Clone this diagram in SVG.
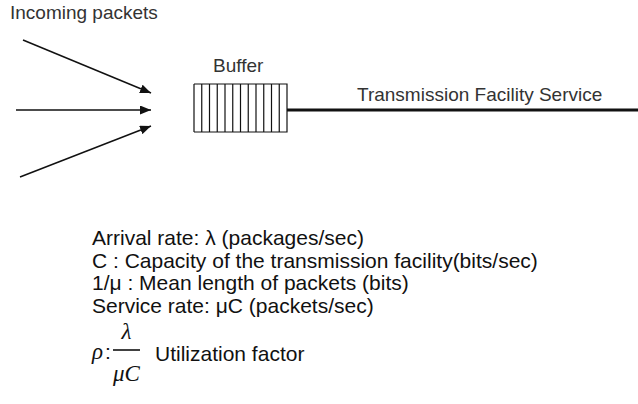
<svg xmlns="http://www.w3.org/2000/svg" width="638" height="404" viewBox="0 0 638 404">
  <defs>
    <marker id="arrow" viewBox="0 0 11 9" refX="11" refY="4.5" markerWidth="11" markerHeight="9" markerUnits="userSpaceOnUse" orient="auto">
      <path d="M0,0 L11,4.5 L0,9 Z" fill="#111"/>
    </marker>
  </defs>
  <style>
    .lbl { font-family: "Liberation Sans", Arial, sans-serif; font-size: 19px; fill: #333; }
    .body { font-family: "Liberation Sans", Arial, sans-serif; font-size: 21px; fill: #111; }
    .math { font-family: "Liberation Serif", "Times New Roman", serif; font-style: italic; font-size: 23px; fill: #111; }
    .arr { stroke: #111; stroke-width: 1.5; fill: none; marker-end: url(#arrow); }
    .cell { stroke: #111; stroke-width: 1.2; fill: none; }
  </style>

  <rect width="638" height="404" fill="#fff"/>

  <g id="incoming">
    <text class="lbl" x="10" y="19">Incoming packets</text>
  </g>

  <g id="connectors">
    <line class="arr" x1="23" y1="40" x2="151" y2="93"/>
    <line class="arr" x1="16" y1="110" x2="151" y2="110"/>
    <line class="arr" x1="20" y1="177" x2="151" y2="126"/>
    <line x1="287" y1="110" x2="638" y2="110" stroke="#111" stroke-width="3"/>
  </g>

  <g id="buffer">
    <text class="lbl" x="213" y="72">Buffer</text>
    <path class="cell" d="M194,84 H287 V132 H194 M194,84 V132
      M201.75,84 V132 M209.5,84 V132 M217.25,84 V132 M225,84 V132
      M232.75,84 V132 M240.5,84 V132 M248.25,84 V132 M256,84 V132
      M263.75,84 V132 M271.5,84 V132 M279.25,84 V132"/>
  </g>

  <g id="service">
    <text class="lbl" x="357" y="101">Transmission Facility Service</text>
  </g>

  <g id="definitions">
    <text class="body" x="92" y="245">Arrival rate: λ (packages/sec)</text>
    <text class="body" x="92" y="268">C : Capacity of the transmission facility(bits/sec)</text>
    <text class="body" x="92" y="290">1/μ : Mean length of packets (bits)</text>
    <text class="body" x="92" y="313">Service rate: μC (packets/sec)</text>
    <text class="math" x="92" y="359">ρ</text>
    <text class="body" x="105" y="359">:</text>
    <text class="math" x="126.5" y="339" text-anchor="middle">λ</text>
    <line x1="113" y1="350" x2="140" y2="350" stroke="#111" stroke-width="1.6"/>
    <text class="math" x="126.5" y="381" text-anchor="middle">μC</text>
    <text class="body" x="155" y="361">Utilization factor</text>
  </g>
</svg>
